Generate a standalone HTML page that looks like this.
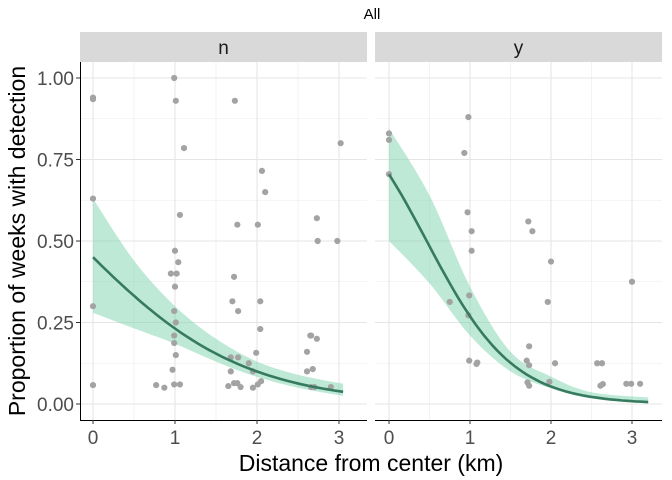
<!DOCTYPE html>
<html><head><meta charset="utf-8"><style>
body{margin:0;background:#fff}
svg{display:block;font-family:"Liberation Sans",Arial,sans-serif}
</style></head><body>
<svg id="chart" width="672" height="480" viewBox="0 0 672 480"></svg>
<script>
// ---- data ----
const yTicks = [0, 0.25, 0.5, 0.75, 1.0];
const yTickLabels = ["0.00","0.25","0.50","0.75","1.00"];
const xTicks = [0, 1, 2, 3];
const xTickLabels = ["0","1","2","3"];
const panelNames = ["n","y"];
const nDist = [0,0,0,0,0,0.99,1.01,1.73,1.11,3.02,2.06,2.1,1.06,1.76,2.01,2.73,2.74,2.98,1.0,1.04,0.95,1.02,1.0,1.72,1.7,1.77,2.04,2.04,0.99,1.01,0.99,0.99,1.01,0.97,0.99,1.06,0.77,0.87,1.68,1.77,1.68,1.9,1.99,1.95,1.65,1.72,1.76,1.8,1.95,2.01,2.05,2.65,2.66,2.73,2.61,2.61,2.68,2.66,2.7,2.9];
const nProp = [0.935,0.94,0.63,0.30,0.058,1.0,0.93,0.93,0.785,0.80,0.715,0.65,0.58,0.55,0.55,0.57,0.50,0.50,0.47,0.435,0.40,0.40,0.36,0.39,0.315,0.285,0.315,0.23,0.285,0.25,0.21,0.187,0.15,0.105,0.06,0.06,0.058,0.05,0.143,0.143,0.10,0.125,0.157,0.10,0.055,0.064,0.064,0.052,0.05,0.06,0.07,0.21,0.21,0.20,0.16,0.10,0.107,0.052,0.052,0.052];
const yDist = [0,0,0,0.98,0.93,0.97,1.02,1.02,0.75,0.99,0.98,0.99,1.08,1.09,1.72,1.77,2.0,1.96,1.73,1.7,1.73,1.71,1.73,1.98,2.05,2.57,2.63,2.61,2.64,3.0,2.93,2.99,3.1];
const yProp = [0.83,0.81,0.705,0.88,0.77,0.588,0.53,0.47,0.313,0.333,0.272,0.133,0.123,0.127,0.56,0.53,0.437,0.313,0.177,0.133,0.119,0.066,0.056,0.068,0.125,0.125,0.125,0.056,0.061,0.375,0.062,0.062,0.062];
const nFitD = [0,0.5,1,1.5,2,2.5,3.05];
const nLower = [0.28,0.232,0.185,0.13,0.083,0.05,0.025];
const nUpper = [0.63,0.44,0.30,0.20,0.13,0.09,0.062];
const yFitD = [0,0.5,1,1.5,2,2.5,3.2];
const yLower = [0.50,0.37,0.21,0.10,0.048,0.017,0.002];
const yUpper = [0.845,0.64,0.36,0.16,0.084,0.036,0.02];
const nCoef = [-0.2,-1.0];
const yCoef = [0.87,-1.87];

const NS="http://www.w3.org/2000/svg";
const svg=document.getElementById('chart');
function mk(t,a,p){const e=document.createElementNS(NS,t);for(const k in a)e.setAttribute(k,a[k]);(p||svg).appendChild(e);return e;}
const plotTop=62,plotBot=420;
const yS=v=>404-v*326;
function smooth(P){ // Catmull-Rom to bezier
  let d='M'+P[0][0]+','+P[0][1];
  for(let i=0;i<P.length-1;i++){
    const p0=P[Math.max(i-1,0)],p1=P[i],p2=P[i+1],p3=P[Math.min(i+2,P.length-1)];
    const c1=[p1[0]+(p2[0]-p0[0])/6,p1[1]+(p2[1]-p0[1])/6],c2=[p2[0]-(p3[0]-p1[0])/6,p2[1]-(p3[1]-p1[1])/6];
    d+='C'+c1[0].toFixed(1)+','+c1[1].toFixed(1)+' '+c2[0].toFixed(1)+','+c2[1].toFixed(1)+' '+p2[0].toFixed(1)+','+p2[1].toFixed(1);
  }
  return d;
}
const panels=[{x0:80,x1:367,xs:d=>93+d*82,dist:nDist,prop:nProp,fd:nFitD,lo:nLower,up:nUpper,coef:nCoef,dmax:3.05},
              {x0:375,x1:662,xs:d=>389+d*81,dist:yDist,prop:yProp,fd:yFitD,lo:yLower,up:yUpper,coef:yCoef,dmax:3.2}];
let t=mk('text',{x:372,y:19,'text-anchor':'middle','font-size':15,fill:'#000'});t.textContent='All';


panels.forEach((p,i)=>{
  const g=mk('g',{});
  
  
  const s=mk('rect',{x:p.x0,y:32,width:p.x1-p.x0,height:30,fill:'#d9d9d9'},g);
  
  
  const st=mk('text',{x:(p.x0+p.x1)/2,y:54,'text-anchor':'middle','font-size':19,fill:'#1a1a1a'},g);st.textContent=panelNames[i];
  
  
  for(let k=0;k<yTicks.length-1;k++){const v=(yTicks[k]+yTicks[k+1])/2;mk('line',{x1:p.x0,x2:p.x1,y1:yS(v),y2:yS(v),stroke:'#ebebeb','stroke-width':0.6},g);}
  for(let k=0;k<xTicks.length;k++){const d=xTicks[k]+0.5;if(p.xs(d)<p.x1)mk('line',{x1:p.xs(d),x2:p.xs(d),y1:plotTop,y2:plotBot,stroke:'#ebebeb','stroke-width':0.6},g);}
  yTicks.forEach(v=>mk('line',{x1:p.x0,x2:p.x1,y1:yS(v),y2:yS(v),stroke:'#e5e5e5','stroke-width':1.1},g));
  xTicks.forEach(d=>mk('line',{x1:p.xs(d),x2:p.xs(d),y1:plotTop,y2:plotBot,stroke:'#e5e5e5','stroke-width':1.1},g));
  const upP=p.fd.map((d,k)=>[p.xs(d),yS(p.up[k])]);
  const loP=p.fd.map((d,k)=>[p.xs(d),yS(p.lo[k])]).reverse();
  const ribD=smooth(upP)+smooth(loP).replace('M','L')+'Z';
  const rib=mk('path',{d:ribD,fill:'#7ed3b0','fill-opacity':0.5},g);
  
  
  p.dist.forEach((d,k)=>{const c=mk('circle',{cx:p.xs(d),cy:yS(p.prop[k]),r:3.1,fill:'#a3a3a3'},g);
    
    });
  let dd='';for(let k=0;k<=60;k++){const d=p.dmax*k/60;const v=1/(1+Math.exp(-(p.coef[0]+p.coef[1]*d)));dd+=(k?'L':'M')+p.xs(d).toFixed(1)+','+yS(v).toFixed(1);}
  const ln=mk('path',{d:dd,fill:'none',stroke:'#367a5f','stroke-width':2.6},g);
  
  
  mk('line',{x1:p.x0,x2:p.x1,y1:plotBot+0.5,y2:plotBot+0.5,stroke:'#000','stroke-width':1},g);
  xTicks.forEach((d,k)=>{mk('line',{x1:p.xs(d),x2:p.xs(d),y1:plotBot,y2:plotBot+4,stroke:'#333'},g);
    const tl=mk('text',{x:p.xs(d),y:444,'text-anchor':'middle','font-size':19,fill:'#4d4d4d'},g);tl.textContent=xTickLabels[k];
    
    });
});
mk('line',{x1:80.5,x2:80.5,y1:plotTop,y2:plotBot,stroke:'#000','stroke-width':1});
yTicks.forEach((v,k)=>{mk('line',{x1:76,x2:80,y1:yS(v),y2:yS(v),stroke:'#333'});
  const tl=mk('text',{x:74,y:yS(v)+7,'text-anchor':'end','font-size':19,fill:'#4d4d4d'});tl.textContent=yTickLabels[k];
  
  });
t=mk('text',{x:371,y:471,'text-anchor':'middle','font-size':23,fill:'#000'});t.textContent='Distance from center (km)';


t=mk('text',{x:0,y:0,transform:'translate(25,241) rotate(-90)','text-anchor':'middle','font-size':23,fill:'#000'});t.textContent='Proportion of weeks with detection';


</script>
</body></html>
